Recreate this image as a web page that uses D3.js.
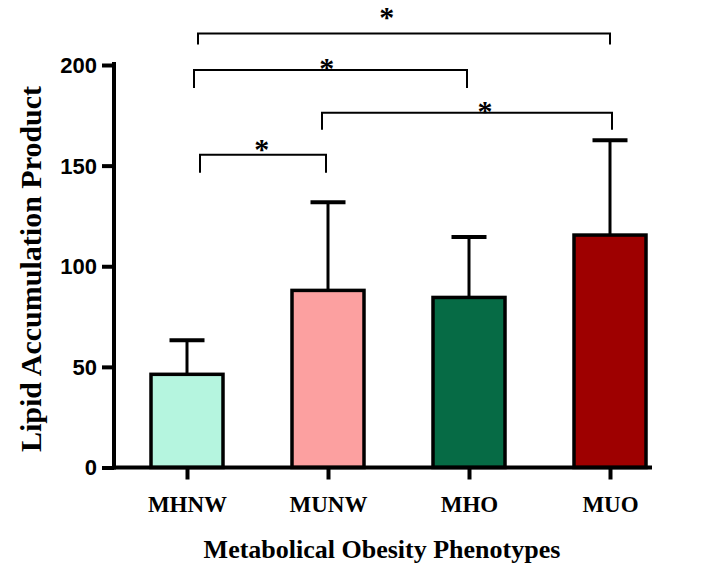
<!DOCTYPE html>
<html><head><meta charset="utf-8">
<script src="https://cdn.jsdelivr.net/npm/d3@7"></script>
<style>html,body{margin:0;padding:0;background:#fff;}svg{display:block;}</style>
</head><body>
<svg id="c" width="724" height="575"></svg>
<script>
// ---- data ----
const categories = ["MHNW", "MUNW", "MHO", "MUO"];
const means = [46.3, 88.0, 84.5, 115.5];
const sds = [16.9, 43.8, 30.0, 47.1];
const colors = ["#b5f5df", "#fca0a0", "#066b45", "#9e0000"];
const yTicks = [0, 50, 100, 150, 200];
// significance comparisons: [from, to], bracket level (data units), star level
const compFrom = ["MHNW", "MHNW", "MUNW", "MHNW"];
const compTo = ["MUO", "MHO", "MUO", "MUNW"];
const compLevel = [215.6, 197.5, 176.3, 155.4];
const starLevel = [226.0, 200.5, 179.3, 160.2];
const compLabel = ["*", "*", "*", "*"];

// ---- style (not data) ----
const legLen = [11, 18, 17, 18];
const endOffL = [11, 7, -6, 13];
const endOffR = [0, -2, 2, -2];
const starFrac = [0.458, 0.486, 0.562, 0.49];

const svg = d3.select("#c");
const y = d3.scaleLinear().domain([0, 200]).range([467.5, 65]);
const x = d3.scalePoint().domain(categories).range([187, 610]);
const barW = 72;
const axisX = 114;

// bars
const g = svg.append("g");
categories.forEach((c, i) => {
  const cx = x(c);
  g.append("line").attr("x1", cx).attr("x2", cx)
    .attr("y1", y(means[i])).attr("y2", y(means[i] + sds[i]))
    .attr("stroke", "#000").attr("stroke-width", 3);
  g.append("line").attr("x1", cx - 17.5).attr("x2", cx + 17.5)
    .attr("y1", y(means[i] + sds[i])).attr("y2", y(means[i] + sds[i]))
    .attr("stroke", "#000").attr("stroke-width", 4);
  g.append("rect").attr("x", cx - barW / 2).attr("y", y(means[i]))
    .attr("width", barW).attr("height", y(0) - y(means[i]))
    .attr("fill", colors[i]).attr("stroke", "#000").attr("stroke-width", 3.5);
});

// y axis
const yAxis = d3.axisLeft(y).tickValues(yTicks).tickSize(12).tickPadding(5).tickFormat(d3.format("d"));
const ya = svg.append("g").attr("transform", `translate(${axisX},0)`).call(yAxis);
ya.select(".domain").attr("stroke", "#000").attr("stroke-width", 4).attr("d", `M0,${y(200) - 3}V${y(0) + 2}`);
ya.selectAll(".tick line").attr("stroke", "#000").attr("stroke-width", 4);
ya.selectAll(".tick text").attr("font-family", "Liberation Sans, Arial, sans-serif")
  .attr("font-weight", "bold").attr("font-size", 22).attr("fill", "#000").attr("dy", "0.34em");

// x axis
const xAxis = d3.axisBottom(x).tickSize(12).tickPadding(16);
const xa = svg.append("g").attr("transform", `translate(0,${y(0)})`).call(xAxis);
xa.select(".domain").attr("stroke", "#000").attr("stroke-width", 4).attr("d", `M${axisX - 2},0H652`);
xa.selectAll(".tick line").attr("stroke", "#000").attr("stroke-width", 4);
xa.selectAll(".tick text").attr("font-family", "Liberation Serif, Times New Roman, serif")
  .attr("font-weight", "bold").attr("font-size", 23).attr("fill", "#000");

// axis titles
svg.append("text").attr("x", 382).attr("y", 558).attr("text-anchor", "middle")
  .attr("font-family", "Liberation Serif, Times New Roman, serif").attr("font-weight", "bold")
  .attr("font-size", 26).text("Metabolical Obesity Phenotypes");
svg.append("text").attr("transform", "translate(41,269) rotate(-90)").attr("text-anchor", "middle")
  .attr("font-family", "Liberation Serif, Times New Roman, serif").attr("font-weight", "bold")
  .attr("font-size", 30).text("Lipid Accumulation Product");

// significance brackets
compFrom.forEach((f, i) => {
  const x1 = x(f) + endOffL[i], x2 = x(compTo[i]) + endOffR[i];
  const yl = y(compLevel[i]);
  svg.append("path").attr("d", `M${x1},${yl + legLen[i]}V${yl}H${x2}V${yl + legLen[i]}`)
    .attr("fill", "none").attr("stroke", "#000").attr("stroke-width", 2);
  svg.append("text").attr("x", x1 + (x2 - x1) * starFrac[i]).attr("y", y(starLevel[i]) + 14)
    .attr("text-anchor", "middle").attr("font-family", "Liberation Serif, Times New Roman, serif")
    .attr("font-weight", "bold").attr("font-size", 30).text(compLabel[i]);
});
</script>
</body></html>
